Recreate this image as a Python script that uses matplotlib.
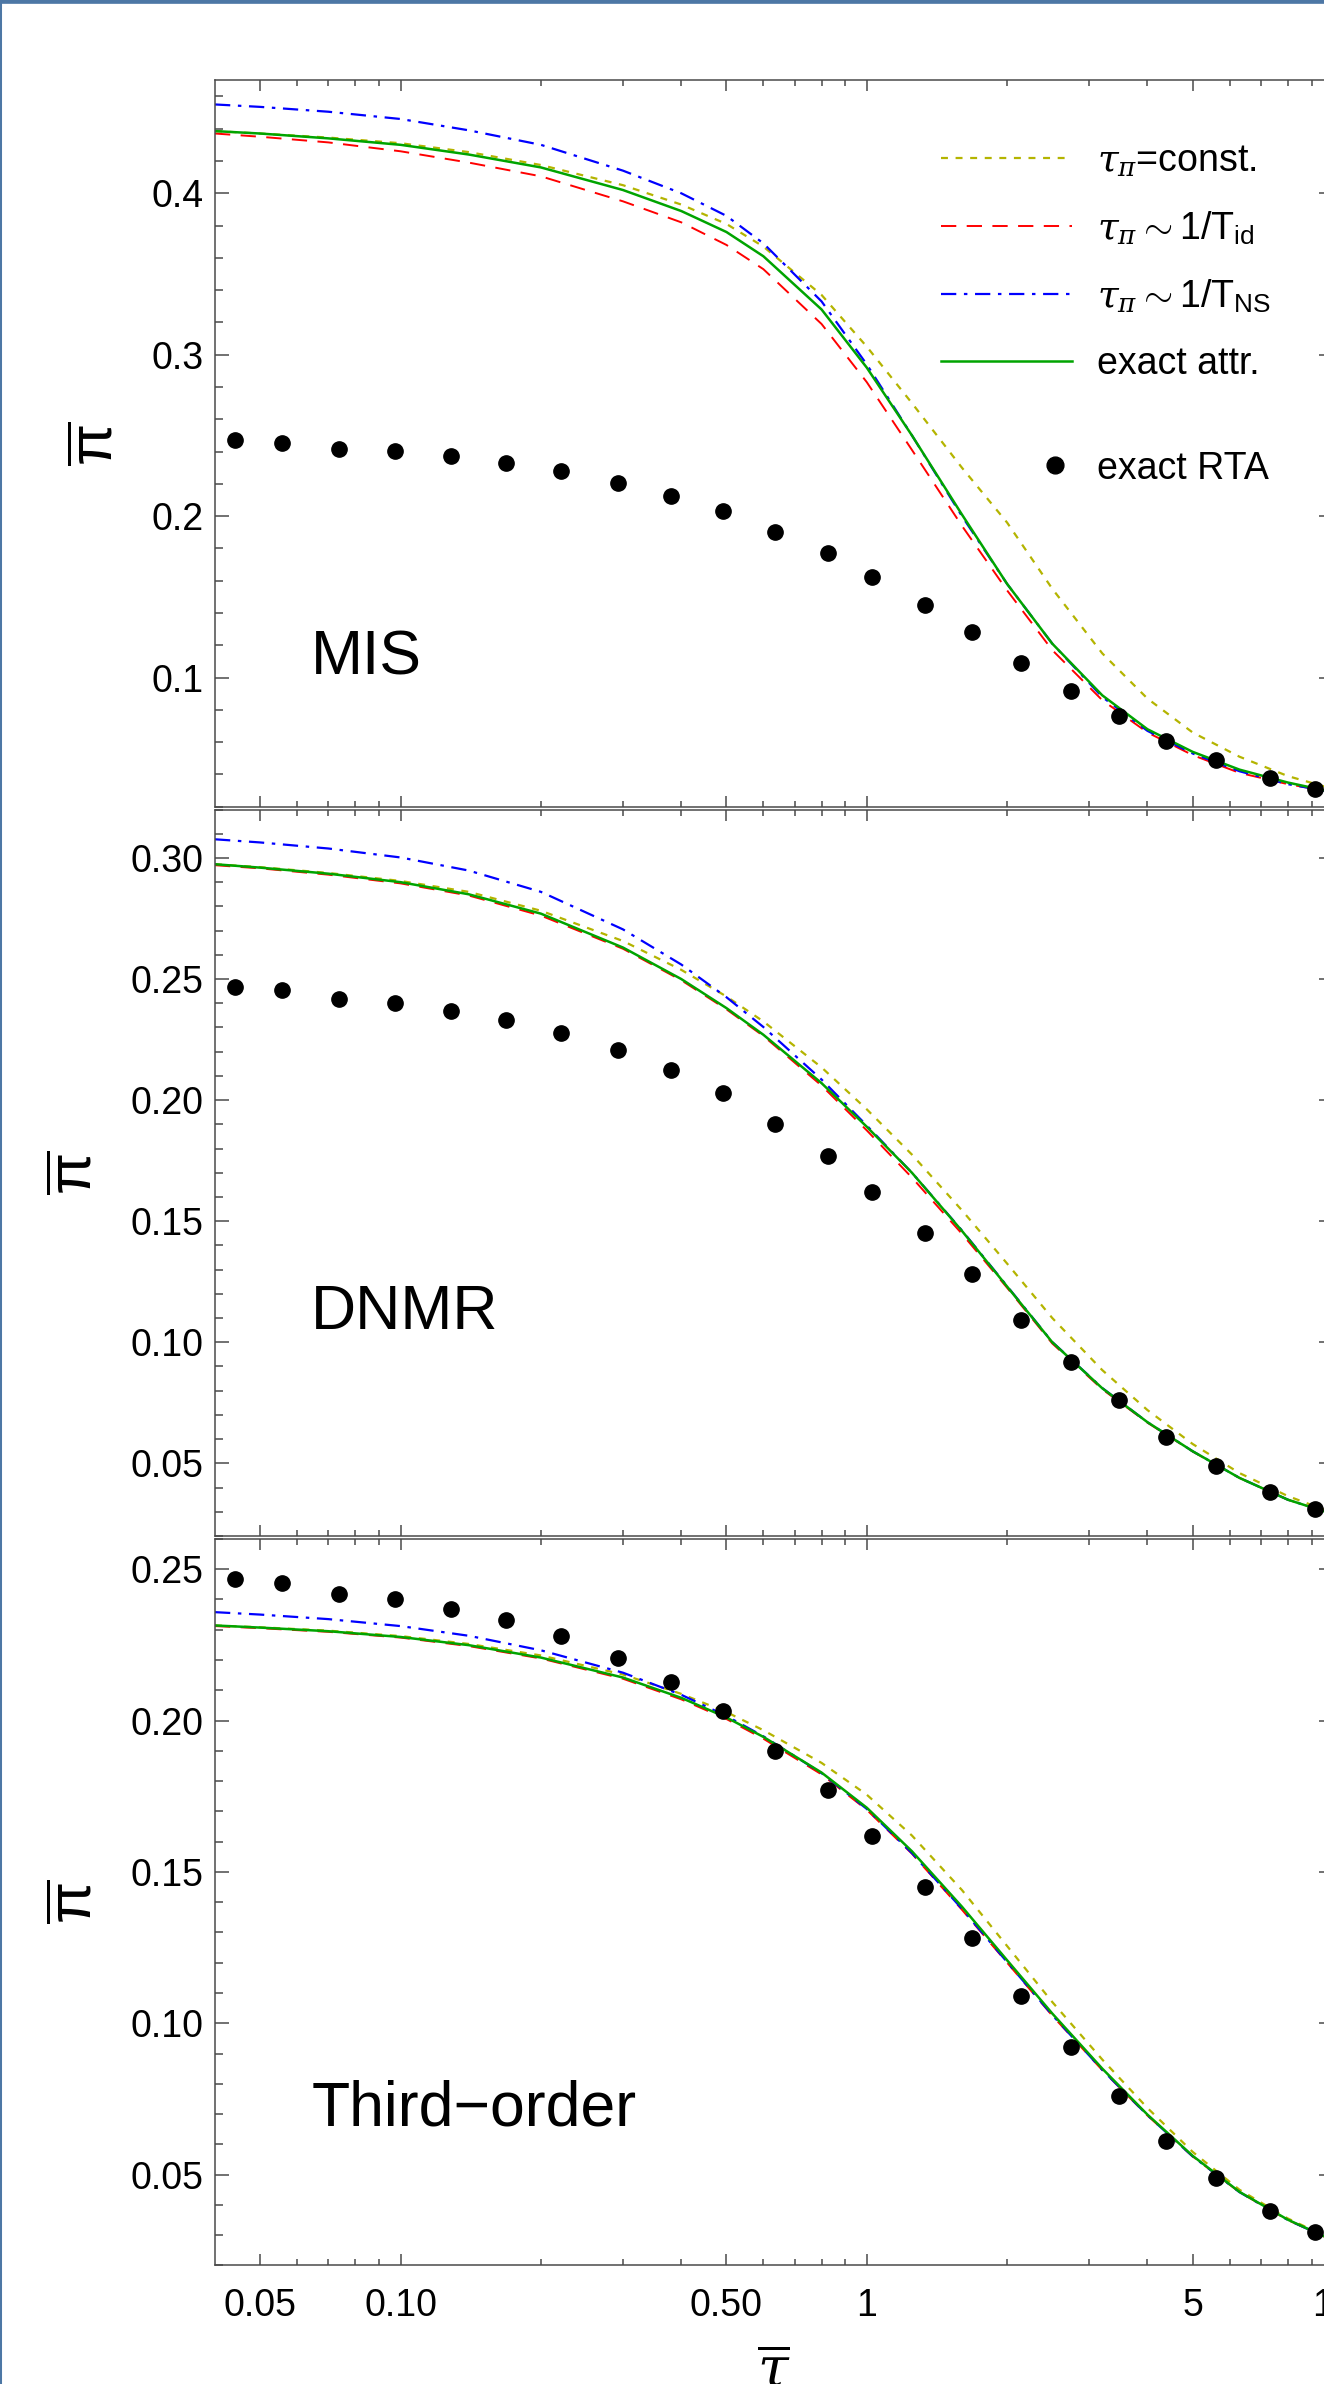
import numpy as np
import matplotlib.pyplot as plt
from matplotlib.ticker import FixedLocator, FixedFormatter, MultipleLocator
from matplotlib.lines import Line2D

plt.rcParams['font.family'] = ['Liberation Sans', 'DejaVu Sans']
plt.rcParams['mathtext.fontset'] = 'custom'
plt.rcParams['mathtext.rm'] = 'Liberation Sans'
plt.rcParams['mathtext.it'] = 'DejaVu Serif:italic'
plt.rcParams['lines.scale_dashes'] = False

# tau-bar grid for the hydro attractor curves
tau = [0.04, 0.05, 0.07, 0.1, 0.14, 0.2, 0.3, 0.4, 0.5, 0.6, 0.8, 1.0,
       1.25, 1.6, 2.0, 2.5, 3.2, 4.0, 5.0, 6.3, 8.0, 10.0]

# MIS
mis_const = [0.4385, 0.437, 0.4345, 0.431, 0.4255, 0.4175, 0.405, 0.393, 0.381, 0.367, 0.337, 0.305,
             0.270, 0.230, 0.196, 0.155, 0.115, 0.087, 0.066, 0.051, 0.039, 0.031]
mis_tid = [0.437, 0.435, 0.4315, 0.426, 0.419, 0.4105, 0.395, 0.382, 0.368, 0.353, 0.319, 0.283,
           0.241, 0.194, 0.154, 0.117, 0.086, 0.066, 0.052, 0.041, 0.034, 0.029]
mis_tns = [0.455, 0.4535, 0.4505, 0.446, 0.439, 0.430, 0.414, 0.400, 0.386, 0.369, 0.333, 0.294,
           0.250, 0.200, 0.158, 0.121, 0.088, 0.067, 0.053, 0.042, 0.034, 0.029]
mis_attr = [0.4385, 0.437, 0.434, 0.430, 0.424, 0.416, 0.402, 0.389, 0.376, 0.361, 0.328, 0.292,
            0.250, 0.201, 0.158, 0.121, 0.089, 0.068, 0.054, 0.043, 0.035, 0.029]

# DNMR
dnmr_const = [0.2974, 0.2962, 0.2938, 0.2905, 0.2860, 0.2782, 0.2657, 0.2538, 0.2428, 0.2325, 0.2135, 0.1962,
              0.1775, 0.1545, 0.1325, 0.1100, 0.0885, 0.0720, 0.0580, 0.0460, 0.0365, 0.0295]
dnmr_tid = [0.2970, 0.2957, 0.2931, 0.2895, 0.2845, 0.2762, 0.2625, 0.2495, 0.2375, 0.2265, 0.2060, 0.1875,
            0.1680, 0.1448, 0.1225, 0.0995, 0.0806, 0.0668, 0.0549, 0.0440, 0.0350, 0.0290]
dnmr_tns = [0.3077, 0.3064, 0.3039, 0.3002, 0.2948, 0.2860, 0.2705, 0.2560, 0.2425, 0.2302, 0.2085, 0.1895,
            0.1700, 0.1462, 0.1232, 0.1001, 0.0811, 0.0670, 0.0550, 0.0440, 0.0350, 0.0290]
dnmr_attr = [0.2974, 0.2960, 0.2935, 0.2900, 0.2850, 0.2770, 0.2630, 0.2500, 0.2380, 0.2270, 0.2070, 0.1890,
             0.1700, 0.1460, 0.1230, 0.1000, 0.0810, 0.0670, 0.0550, 0.0440, 0.0350, 0.0290]

# third order
third_const = [0.2314, 0.2308, 0.2297, 0.2279, 0.2253, 0.2215, 0.2152, 0.2088, 0.2028, 0.1968, 0.1860, 0.1755,
               0.1620, 0.1440, 0.1255, 0.1070, 0.0880, 0.0720, 0.0575, 0.0450, 0.0355, 0.0285]
third_tid = [0.2312, 0.2305, 0.2293, 0.2274, 0.2246, 0.2205, 0.2138, 0.2070, 0.2005, 0.1940, 0.1822, 0.1705,
             0.1560, 0.1375, 0.1200, 0.1025, 0.0845, 0.0695, 0.0560, 0.0442, 0.0350, 0.0282]
third_tns = [0.2358, 0.2350, 0.2335, 0.2312, 0.2280, 0.2232, 0.2158, 0.2085, 0.2015, 0.1948, 0.1826, 0.1708,
             0.1562, 0.1378, 0.1202, 0.1027, 0.0846, 0.0696, 0.0560, 0.0442, 0.0350, 0.0282]
third_attr = [0.2314, 0.2307, 0.2295, 0.2276, 0.2249, 0.2208, 0.2142, 0.2075, 0.2010, 0.1946, 0.1828, 0.1712,
              0.1568, 0.1385, 0.1208, 0.1032, 0.0850, 0.0698, 0.0562, 0.0443, 0.0351, 0.0283]

# exact RTA solution (same in all panels)
rta_tau = [0.0442, 0.0556, 0.0737, 0.0974, 0.128, 0.168, 0.2206, 0.292, 0.380, 0.492, 0.635,
           0.825, 1.025, 1.333, 1.68, 2.14, 2.74, 3.48, 4.39, 5.62, 7.31, 9.15]
rta_pi = [0.2469, 0.2453, 0.2419, 0.2401, 0.2370, 0.2331, 0.2279, 0.2207, 0.2126, 0.203, 0.190,
          0.177, 0.162, 0.145, 0.128, 0.109, 0.092, 0.076, 0.061, 0.049, 0.038, 0.031]

panels = [
    ('MIS', mis_const, mis_tid, mis_tns, mis_attr, 0.47, [0.1, 0.2, 0.3, 0.4], ['0.1', '0.2', '0.3', '0.4'], 0.02),
    ('DNMR', dnmr_const, dnmr_tid, dnmr_tns, dnmr_attr, 0.32, [0.05, 0.10, 0.15, 0.20, 0.25, 0.30],
     ['0.05', '0.10', '0.15', '0.20', '0.25', '0.30'], 0.01),
    ('Third\u2212order', third_const, third_tid, third_tns, third_attr, 0.26, [0.05, 0.10, 0.15, 0.20, 0.25],
     ['0.05', '0.10', '0.15', '0.20', '0.25'], 0.01),
]
label_pos = [(0.086, 0.182), (0.086, 0.285), (0.086, 0.192)]

xmaj = [0.05, 0.1, 0.5, 1, 5, 10]
xmaj_lab = ['0.05', '0.10', '0.50', '1', '5', '10']
xmin = [0.06, 0.07, 0.08, 0.09, 0.2, 0.3, 0.4, 0.6, 0.7, 0.8, 0.9, 2, 3, 4, 6, 7, 8, 9]

fig = plt.figure(figsize=(13.24, 23.84), dpi=100)
bottoms = [0.6616, 0.3557, 0.04975]
gray = '#4a4a4a'

for i, (name, c1, c2, c3, c4, ytop, yt, ytl, yminor) in enumerate(panels):
    ax = fig.add_axes([0.16239, bottoms[i], 0.84441, 0.30474])
    l1, = ax.plot(tau, c1, color='#b4b400', lw=1.6, ls=(0, (5, 5.5)))
    l2, = ax.plot(tau, c2, color='#ff0000', lw=1.4, ls=(0, (11, 7.5)))
    l3, = ax.plot(tau, c3, color='#0000ff', lw=1.6, ls=(0, (11, 5.5, 2.5, 5.5)))
    l4, = ax.plot(tau, c4, color='#00a400', lw=1.8)
    d, = ax.plot(rta_tau, rta_pi, 'o', color='black', ms=11, ls='none')
    ax.set_xscale('log')
    ax.set_xlim(0.04, 10)
    ax.set_ylim(0.02, ytop)
    ax.xaxis.set_major_locator(FixedLocator(xmaj))
    ax.xaxis.set_major_formatter(FixedFormatter(xmaj_lab))
    ax.xaxis.set_minor_locator(FixedLocator(xmin))
    ax.xaxis.set_minor_formatter(FixedFormatter([''] * len(xmin)))
    ax.yaxis.set_major_locator(FixedLocator(yt))
    ax.yaxis.set_major_formatter(FixedFormatter(ytl))
    ax.yaxis.set_minor_locator(MultipleLocator(yminor))
    ax.tick_params(which='both', direction='in', top=True, right=True, color=gray, width=1.1,
                   labelsize=27, pad=8.5)
    ax.tick_params(axis='x', which='major', length=8)
    ax.tick_params(axis='x', which='minor', length=4)
    ax.tick_params(axis='y', which='major', length=9.9)
    ax.tick_params(axis='y', which='minor', length=5.8)
    ax.tick_params(axis='x', pad=16, labelbottom=(i == 2))
    for s in ax.spines.values():
        s.set_color(gray)
        s.set_linewidth(1.1)
    ax.set_ylabel(r'$\overline{\mathrm{\pi}}$', fontsize=44, labelpad=18)
    ax.text(label_pos[i][0], label_pos[i][1], name, transform=ax.transAxes, fontsize=45,
            ha='left', va='baseline')
    if i == 0:
        leg = ax.legend([l1, l2, l3, l4],
                        [r'$\tau_\pi$=const.', r'$\tau_\pi\sim$1/T$_{\rm id}$',
                         r'$\tau_\pi\sim$1/T$_{\rm NS}$', 'exact attr.'],
                        loc='upper left', bbox_to_anchor=(0.6494, 0.913), frameon=False,
                        fontsize=27, handlelength=3.5, handletextpad=0.67, labelspacing=0.81,
                        borderpad=0, borderaxespad=0)
        ax.add_artist(leg)
        ax.legend([d], ['exact RTA'], loc='center left', bbox_to_anchor=(0.736, 0.4655),
                  frameon=False, fontsize=27, handlelength=0.9, handletextpad=0.67,
                  borderpad=0, borderaxespad=0, markerscale=1.1)
    if i == 2:
        ax.set_xlabel(r'$\overline{\tau}$', fontsize=40, labelpad=16)

# screenshot frame
fig.add_artist(Line2D([0, 1], [1, 1], transform=fig.transFigure, color='#4d77a5', lw=4.8))
fig.add_artist(Line2D([0, 0], [0, 1], transform=fig.transFigure, color='#4d77a5', lw=2.2))

fig.savefig('out.png', dpi=100)
